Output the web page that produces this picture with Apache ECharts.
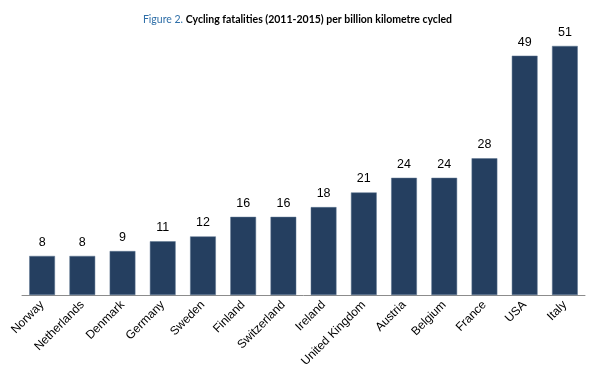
<!DOCTYPE html>
<html>
<head>
<meta charset="utf-8">
<script src="https://cdn.jsdelivr.net/npm/echarts@6/dist/echarts.min.js"></script>
<style>
  html, body { margin: 0; padding: 0; background: #fff; }
  #chart { width: 595px; height: 377px; }
</style>
</head>
<body>
<div id="chart"></div>
<script>
const countries = ['Norway', 'Netherlands', 'Denmark', 'Germany', 'Sweden', 'Finland', 'Switzerland',
  'Ireland', 'United Kingdom', 'Austria', 'Belgium', 'France', 'USA', 'Italy'];
const fatalities = [8, 8, 9, 11, 12, 16, 16, 18, 21, 24, 24, 28, 49, 51];

const chart = echarts.init(document.getElementById('chart'));
chart.setOption({
  animation: false,
  title: {
    text: '{a|Figure 2. }{b|Cycling fatalities (2011-2015) per billion kilometre cycled}',
    left: 'center',
    top: 9,
    textStyle: {
      rich: {
        a: { fontFamily: 'Lato', fontSize: 10.5, fontWeight: 'normal', color: '#2f6fa8' },
        b: { fontFamily: 'Lato', fontSize: 10.5, fontWeight: 'bold', color: '#000' }
      }
    }
  },
  grid: { left: 22, right: 10, top: 2, bottom: 82 },
  xAxis: {
    type: 'category',
    data: countries,
    axisLine: { lineStyle: { color: '#8c8c8c', width: 1 } },
    axisTick: { show: false },
    axisLabel: {
      rotate: 45,
      interval: 0,
      margin: 8,
      fontFamily: 'Liberation Sans',
      fontSize: 12,
      color: '#000'
    }
  },
  yAxis: {
    type: 'value',
    min: 0,
    max: 60,
    show: false,
    splitLine: { show: false }
  },
  series: [{
    type: 'bar',
    data: fatalities,
    barWidth: '64%',
    itemStyle: { color: '#253f60', borderColor: '#5d7591', borderWidth: 0.5 },
    label: {
      show: true,
      position: 'top',
      distance: 7,
      fontFamily: 'Liberation Sans',
      fontSize: 12.5,
      color: '#000'
    }
  }]
});
</script>
</body>
</html>
